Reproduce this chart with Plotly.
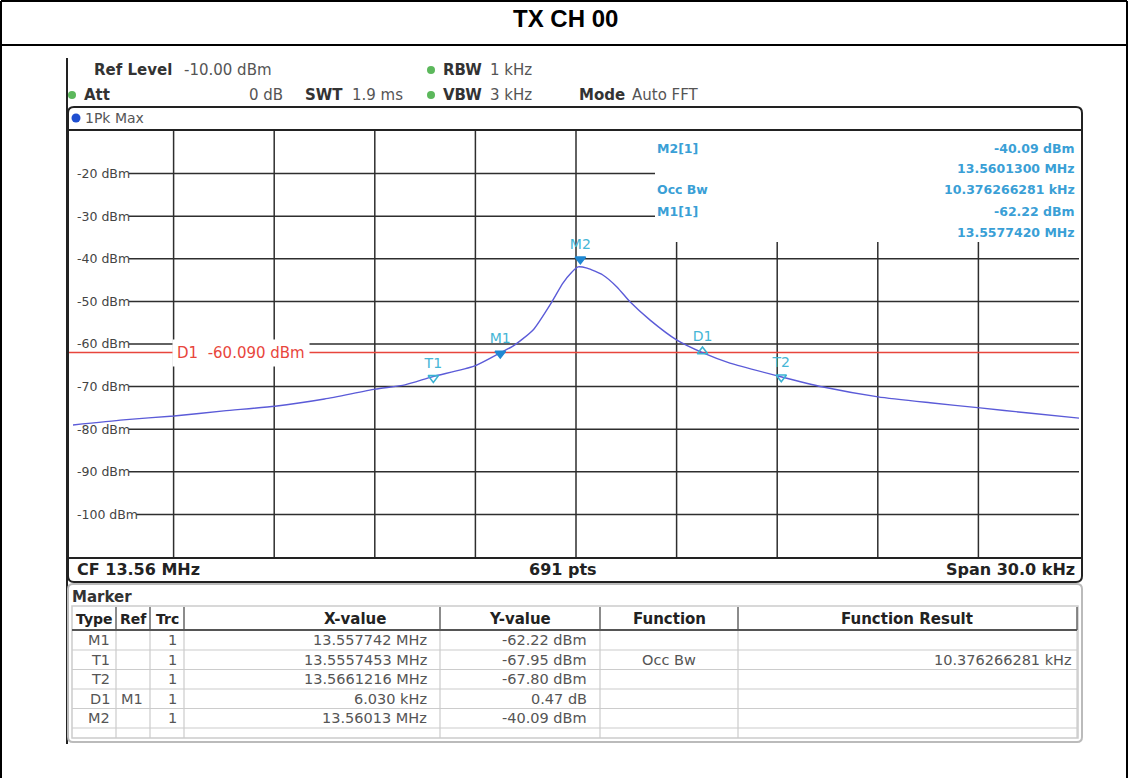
import plotly.graph_objects as go

W, H = 1129, 778

# ---------------- data ----------------
freq_mhz = [13.545, 13.5465, 13.54801, 13.5495, 13.55102, 13.5525, 13.55401, 13.5549,
            13.55571, 13.55696, 13.55773, 13.55812, 13.55872, 13.55928, 13.55961, 13.55988,
            13.56006, 13.56033, 13.5608, 13.56122, 13.56161, 13.56221, 13.56301, 13.56379,
            13.56459, 13.56602, 13.56737, 13.56901, 13.57056, 13.57205, 13.5735, 13.575]
level_dbm = [-79.0, -77.8, -76.9, -75.7, -74.6, -72.9, -70.6, -69.6,
             -67.7, -65.2, -62.1, -60.5, -56.7, -50.1, -45.7, -43.1,
             -41.9, -42.2, -43.8, -46.6, -50.1, -54.4, -59.1, -62.1,
             -64.5, -67.5, -70.1, -72.4, -73.8, -75.0, -76.2, -77.4]

y_tick_values = [-20, -30, -40, -50, -60, -70, -80, -90, -100]
y_tick_labels = ["-20 dBm", "-30 dBm", "-40 dBm", "-50 dBm", "-60 dBm",
                 "-70 dBm", "-80 dBm", "-90 dBm", "-100 dBm"]

marker_names = ["M1", "T1", "T2", "D1", "M2"]
marker_freq = [13.557742, 13.5557453, 13.5661216, 13.563772, 13.56013]
marker_level = [-62.22, -67.95, -67.80, -61.75, -40.09]
marker_symbols = ["triangle-down", "triangle-down-open", "triangle-down-open",
                  "triangle-up-open", "triangle-down"]

d1_line_level = -62.0
d1_line_label = "D1  -60.090 dBm"

info_left = ["M2[1]", "", "Occ Bw", "M1[1]", ""]
info_right = ["-40.09 dBm", "13.5601300 MHz", "10.376266281 kHz", "-62.22 dBm", "13.5577420 MHz"]

table_header = ["Type", "Ref", "Trc", "X-value", "Y-value", "Function", "Function Result"]
table_type = ["M1", "T1", "T2", "D1", "M2"]
table_ref = ["", "", "", "M1", ""]
table_trc = ["1", "1", "1", "1", "1"]
table_x = ["13.557742 MHz", "13.5557453 MHz", "13.5661216 MHz", "6.030 kHz", "13.56013 MHz"]
table_y = ["-62.22 dBm", "-67.95 dBm", "-67.80 dBm", "0.47 dB", "-40.09 dBm"]
table_func = ["", "Occ Bw", "", "", ""]
table_result = ["", "10.376266281 kHz", "", "", ""]

title_text = "TX CH 00"
x_start, x_end = 13.545, 13.575
x_div = 10
y_bottom, y_top = -110, -10

# ---------------- helpers ----------------
def X(x):
    return x / W

def Y(y):
    return 1 - y / H

FONT = "DejaVu Sans"
annotations = []
shapes = []

def txt(x, y, s, size=12, color="#333", bold=False, xanchor="left", family=FONT, **kw):
    annotations.append(dict(
        x=X(x), y=Y(y), xref="paper", yref="paper", text=("<b>%s</b>" % s) if bold else s,
        showarrow=False, xanchor=xanchor, yanchor="middle",
        font=dict(size=size, color=color, family=family), **kw))

def line(x0, y0, x1, y1, color="#333", width=1.5, layer="above"):
    shapes.append(dict(type="line", xref="paper", yref="paper",
                       x0=X(x0), y0=Y(y0), x1=X(x1), y1=Y(y1),
                       line=dict(color=color, width=width), layer=layer))

def rect(x0, y0, x1, y1, fill="white", color=None, width=0, layer="above"):
    shapes.append(dict(type="rect", xref="paper", yref="paper",
                       x0=X(x0), y0=Y(y0), x1=X(x1), y1=Y(y1),
                       fillcolor=fill, line=dict(color=color or "rgba(0,0,0,0)", width=width),
                       layer=layer))

def rrect(x0, y0, x1, y1, r, color="#333", width=2, fill="rgba(0,0,0,0)", layer="above"):
    p = (f"M{X(x0+r)},{Y(y0)} L{X(x1-r)},{Y(y0)} Q{X(x1)},{Y(y0)} {X(x1)},{Y(y0+r)} "
         f"L{X(x1)},{Y(y1-r)} Q{X(x1)},{Y(y1)} {X(x1-r)},{Y(y1)} L{X(x0+r)},{Y(y1)} "
         f"Q{X(x0)},{Y(y1)} {X(x0)},{Y(y1-r)} L{X(x0)},{Y(y0+r)} Q{X(x0)},{Y(y0)} {X(x0+r)},{Y(y0)} Z")
    shapes.append(dict(type="path", xref="paper", yref="paper", path=p,
                       line=dict(color=color, width=width), fillcolor=fill, layer=layer))

def dot(x, y, r, color):
    shapes.append(dict(type="circle", xref="paper", yref="paper",
                       x0=X(x - r), y0=Y(y + r), x1=X(x + r), y1=Y(y - r),
                       fillcolor=color, line=dict(color=color, width=0), layer="above"))

# ---------------- figure ----------------
fig = go.Figure()

fig.add_trace(go.Scatter(
    x=freq_mhz, y=level_dbm, mode="lines",
    line=dict(color="#5b5bd8", width=1.4, shape="spline", smoothing=0.6),
    hoverinfo="skip", showlegend=False))

marker_fill = ["#1f88d2" if "open" not in s else "#3ab2d2" for s in marker_symbols]
fig.add_trace(go.Scatter(
    x=marker_freq, y=marker_level, mode="markers+text",
    marker=dict(symbol=marker_symbols, size=9, color=marker_fill,
                line=dict(width=1.6, color=marker_fill)),
    text=marker_names, textposition="top center",
    textfont=dict(family=FONT, size=14, color="#45b6d6"),
    hoverinfo="skip", showlegend=False))

GRID = "#2e2e2e"
PLOT_L, PLOT_R, PLOT_T, PLOT_B = 73, 1079, 131, 557
INFO_L, INFO_B = 655, 242

# horizontal grid lines (start after the in-plot labels)
for v, lab in zip(y_tick_values, y_tick_labels):
    label_end = 75 + 7.4 * len(lab) + 2
    right = INFO_L if v > -35 else PLOT_R
    shapes.append(dict(type="line", xref="paper", yref="y", x0=X(label_end), x1=X(right),
                       y0=v, y1=v, line=dict(color=GRID, width=1.5), layer="below"))
    annotations.append(dict(x=X(75), y=v, xref="paper", yref="y", text=lab,
                            showarrow=False, xanchor="left", yanchor="middle",
                            font=dict(size=12.5, color="#444", family=FONT)))

# vertical grid lines
step = (x_end - x_start) / x_div
info_freq = x_start + (INFO_L - PLOT_L) / (PLOT_R - PLOT_L) * (x_end - x_start)
for i in range(1, x_div):
    gx = x_start + i * step
    top = INFO_B if gx > info_freq else PLOT_T
    shapes.append(dict(type="line", xref="x", yref="paper", x0=gx, x1=gx,
                       y0=Y(PLOT_B), y1=Y(top), line=dict(color=GRID, width=1.5), layer="below"))

# outer frame and title
line(1, 1, 1127, 1, "#000", 2)
line(1, 1, 1, 778, "#000", 2)
line(1127, 1, 1127, 778, "#000", 2)
line(1, 45, 1127, 45, "#000", 2)
txt(565, 19, title_text, size=24, color="#000", bold=True, xanchor="center",
    family="Liberation Sans, Arial, sans-serif")

# screenshot left edge
line(67, 58, 67, 744, "#222", 2)

# header
HS = 15
txt(92, 70, "Ref Level", HS, "#333", True)
txt(182, 70, "-10.00 dBm", HS, "#555")
dot(431, 70, 4, "#5cb85c")
txt(441, 70, "RBW", HS, "#333", True)
txt(488, 70, "1 kHz", HS, "#555")
dot(72, 95, 4, "#5cb85c")
txt(82, 95, "Att", HS, "#333", True)
txt(285, 95, "0 dB", HS, "#555", xanchor="right")
txt(303, 95, "SWT", HS, "#333", True)
txt(350, 95, "1.9 ms", HS, "#555")
dot(431, 95, 4, "#5cb85c")
txt(441, 95, "VBW", HS, "#333", True)
txt(488, 95, "3 kHz", HS, "#555")
txt(577, 95, "Mode", HS, "#333", True)
txt(630, 95, "Auto FFT", HS, "#555")

# panel
rrect(68, 107, 1082, 582, 6, "#222", 2)
dot(76, 118, 4.5, "#1f4fd0")
txt(83, 118, "1Pk Max", 14, "#555")
line(68, 130, 1082, 130, "#222", 2)
line(68, 558, 1082, 558, "#222", 2)
txt(75, 569, "CF 13.56 MHz", 16, "#222", True)
txt(563, 569, "691 pts", 16, "#222", True, xanchor="center")
txt(1077, 569, "Span 30.0 kHz", 16, "#222", True, xanchor="right")

# D1 display line
shapes.append(dict(type="line", xref="paper", yref="y", x0=X(68), x1=X(1079),
                   y0=d1_line_level, y1=d1_line_level,
                   line=dict(color="#e8463c", width=1.5), layer="below"))
annotations.append(dict(x=X(172), y=d1_line_level, xref="paper", yref="y", text=d1_line_label,
                        showarrow=False, xanchor="left", yanchor="middle", bgcolor="white",
                        borderpad=4, font=dict(size=15, color="#e8463c", family=FONT)))

# marker info block
info_rows = [148, 169, 190, 211, 232]
for yy, l, r in zip(info_rows, info_left, info_right):
    if l:
        txt(655, yy, l, 12.5, "#3a9fd6", True)
    txt(1077, yy, r, 12.5, "#3a9fd6", True, xanchor="right")

# marker table
rrect(68, 584, 1082, 742, 5, "#bbbbbb", 2)
txt(70, 597, "Marker", 15, "#333", True)
cols = [72, 116, 150, 184, 440, 600, 738, 1077]
row_bounds = [630, 650, 669.5, 689, 708.5, 728]
rect(72, 606, 1078, 738, "rgba(0,0,0,0)", "#cccccc", 1.5)
for yb in row_bounds[1:]:
    line(72, yb, 1077, yb, "#cccccc", 1.2)
for cx in cols[1:]:
    line(cx, 607, cx, 630, "#666", 1.5)
    line(cx, 630, cx, 738, "#cccccc", 1.2)
line(72, 630, 1077, 630, "#555", 2)
head_centers = [94, 133, 167, 355, 520, 669, 907]
head_sizes = [14, 14, 14, 15, 15, 15, 15]
for cx, h, hs in zip(head_centers, table_header, head_sizes):
    txt(cx, 619, h, hs, "#222", True, xanchor="center")
row_centers = [640, 660, 679, 698.5, 718]
TS = 14.5
for i, yy in enumerate(row_centers):
    txt(112, yy, table_type[i], TS, "#555", xanchor="right")
    if table_ref[i]:
        txt(145, yy, table_ref[i], TS, "#555", xanchor="right")
    txt(179, yy, table_trc[i], TS, "#555", xanchor="right")
    txt(429, yy, table_x[i], TS, "#555", xanchor="right")
    txt(589, yy, table_y[i], TS, "#555", xanchor="right")
    if table_func[i]:
        txt(669, yy, table_func[i], TS, "#555", xanchor="center")
    if table_result[i]:
        txt(1074, yy, table_result[i], TS, "#555", xanchor="right")

fig.update_layout(
    width=W, height=H, margin=dict(l=0, r=0, t=0, b=0),
    paper_bgcolor="white", plot_bgcolor="white",
    xaxis=dict(domain=[X(PLOT_L), X(PLOT_R)], range=[x_start, x_end],
               showgrid=False, showticklabels=False,
               zeroline=False, showline=False, ticks="", fixedrange=True),
    yaxis=dict(domain=[Y(PLOT_B), Y(PLOT_T)], range=[y_bottom, y_top],
               showgrid=False, showticklabels=False,
               zeroline=False, showline=False, ticks="", fixedrange=True),
    shapes=shapes, annotations=annotations, showlegend=False,
)

fig.write_html("out.html", config={"displayModeBar": False},
               post_script="document.body.style.margin='0px';")
